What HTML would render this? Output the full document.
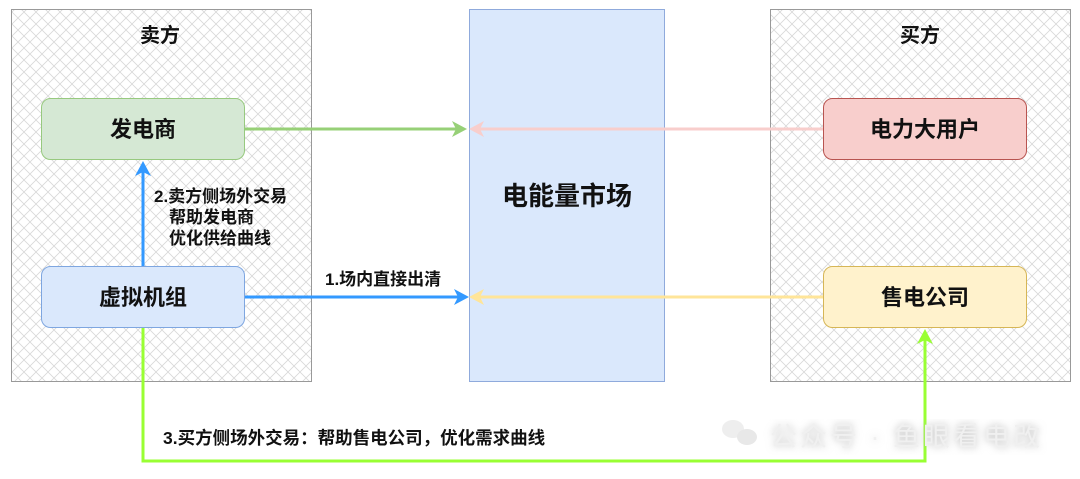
<!DOCTYPE html>
<html><head><meta charset="utf-8"><style>
body{margin:0;width:1080px;height:479px;background:#fff;overflow:hidden;font-family:"Liberation Sans","Noto Sans CJK SC",sans-serif}
</style></head><body>
<svg width="1080" height="479" xmlns="http://www.w3.org/2000/svg" style="position:absolute;left:0;top:0">
<defs>
<pattern id="h" width="12" height="12" patternUnits="userSpaceOnUse">
<path d="M0 0L12 12M12 0L0 12" stroke="#d8d8d8" stroke-width="0.8"/>
</pattern>
<filter id="sh"><feGaussianBlur stdDeviation="4"/></filter>
</defs>
<g font-family="Liberation Sans, Noto Sans CJK SC, sans-serif" font-weight="bold" fill="#111">
<rect x="11.5" y="9.5" width="300" height="372" fill="url(#h)" stroke="#999"/>
<rect x="770.5" y="9.5" width="300" height="372" fill="url(#h)" stroke="#999"/>
<rect x="469.5" y="9.5" width="195" height="372" fill="#dae8fc" stroke="#8faadc"/>
<text x="160" y="42" font-size="20" text-anchor="middle">卖方</text>
<text x="920" y="42" font-size="20" text-anchor="middle">买方</text>
<text x="567" y="205" font-size="26" text-anchor="middle">电能量市场</text>
<rect x="41.5" y="98.5" width="203" height="61" rx="9" fill="#d5e8d4" stroke="#97c97f"/>
<text x="143" y="137" font-size="22" text-anchor="middle">发电商</text>
<rect x="41.5" y="266.5" width="203" height="61" rx="9" fill="#dae8fc" stroke="#7ea6e0"/>
<text x="143" y="305" font-size="22" text-anchor="middle">虚拟机组</text>
<rect x="823.5" y="98.5" width="203" height="61" rx="9" fill="#f8cecc" stroke="#b85450"/>
<text x="925" y="137" font-size="22" text-anchor="middle">电力大用户</text>
<rect x="823.5" y="266.5" width="203" height="61" rx="9" fill="#fff2cc" stroke="#d6b656"/>
<text x="925" y="305" font-size="22" text-anchor="middle">售电公司</text>
<line x1="245" y1="129" x2="458" y2="129" stroke="#97d077" stroke-width="3"/>
<path d="M467 129L452 121L456 129L452 137Z" fill="#97d077"/>
<line x1="823" y1="129" x2="478" y2="129" stroke="#f8cecc" stroke-width="3"/>
<path d="M469 129L484 121L480 129L484 137Z" fill="#f8cecc"/>
<line x1="245" y1="297" x2="460" y2="297" stroke="#3399ff" stroke-width="3"/>
<path d="M469 297L454 289L458 297L454 305Z" fill="#3399ff"/>
<line x1="823" y1="297" x2="478" y2="297" stroke="#ffe599" stroke-width="3"/>
<path d="M469 297L484 289L480 297L484 305Z" fill="#ffe599"/>
<line x1="143" y1="266" x2="143" y2="170" stroke="#3399ff" stroke-width="3"/>
<path d="M143 161L135 176L143 172L151 176Z" fill="#3399ff"/>
<path d="M143 328V461H925V338" fill="none" stroke="#99ff33" stroke-width="3"/>
<path d="M925 329L917 344L925 340L933 344Z" fill="#99ff33"/>
<text x="154" y="202" font-size="17">2.卖方侧场外交易</text>
<text x="169" y="223" font-size="17">帮助发电商</text>
<text x="169" y="244" font-size="17">优化供给曲线</text>
<text x="325" y="285" font-size="17">1.场内直接出清</text>
<text x="163" y="444" font-size="17.5">3.买方侧场外交易：帮助售电公司，优化需求曲线</text>
<g font-weight="normal" font-size="27" letter-spacing="3">
<text x="770" y="446" fill="#bbb" filter="url(#sh)">公众号 · 鱼眼看电改</text>
<text x="770" y="446" fill="#f0f0f0">公众号 · 鱼眼看电改</text>
<ellipse cx="733" cy="429" rx="11" ry="9" fill="#eee"/>
<ellipse cx="747" cy="437" rx="10" ry="8" fill="#e8e8e8"/>
</g>
</g>
</svg>
</body></html>
